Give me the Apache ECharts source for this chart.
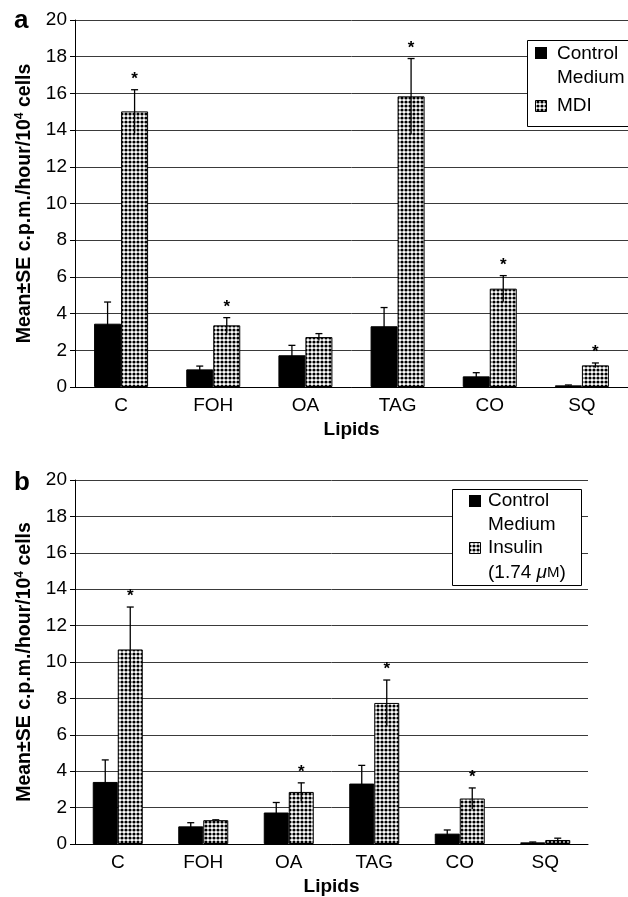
<!DOCTYPE html>
<html>
<head>
<meta charset="utf-8">
<script src="https://cdn.jsdelivr.net/npm/echarts@6/dist/echarts.min.js"></script>
<style>
html, body { margin: 0; padding: 0; background: #fff; }
#chart { width: 628px; height: 897px; }
</style>
</head>
<body>
<div id="chart"></div>
<script>
// data
var lipids = ['C', 'FOH', 'OA', 'TAG', 'CO', 'SQ'];

// panel a: control medium vs MDI
var ctrlA = [3.45, 0.96, 1.73, 3.31, 0.58, 0.09];
var ctrlErrA = [1.18, 0.18, 0.54, 1.02, 0.20, 0.02];
var mdiA = [15.02, 3.36, 2.72, 15.84, 5.36, 1.18];
var mdiErrA = [1.18, 0.42, 0.19, 2.06, 0.71, 0.13];
var mdiStarA = [1, 1, 0, 1, 1, 1];

// panel b: control medium vs insulin
var ctrlB = [3.41, 0.97, 1.73, 3.32, 0.57, 0.09];
var ctrlErrB = [1.21, 0.20, 0.55, 1.00, 0.20, 0.02];
var insB = [10.69, 1.31, 2.86, 7.75, 2.50, 0.22];
var insErrB = [2.33, 0.02, 0.50, 1.26, 0.58, 0.10];
var insStarB = [1, 0, 1, 1, 1, 0];

var FONT = 'Liberation Sans, Arial, sans-serif';

// dotted fill like the printed figure
var tile = document.createElement('canvas');
tile.width = 4; tile.height = 4;
var tctx = tile.getContext('2d');
tctx.fillStyle = '#fff';
tctx.fillRect(0, 0, 4, 4);
tctx.fillStyle = '#000';
tctx.beginPath();
tctx.arc(2, 2, 1.6, 0, Math.PI * 2);
tctx.fill();
var dots = { image: tile, repeat: 'repeat' };

function xAx(idx) {
    return {
        type: 'category', gridIndex: idx, data: lipids,
        name: 'Lipids', nameLocation: 'middle', nameGap: 33,
        nameTextStyle: { fontFamily: FONT, fontSize: 19, fontWeight: 'bold', color: '#000' },
        axisLine: { lineStyle: { color: '#000', width: 1 } },
        axisTick: { length: 6, lineStyle: { color: '#000' } },
        axisLabel: { fontFamily: FONT, fontSize: 19, color: '#000', margin: 9 }
    };
}

function yAx(idx) {
    return {
        type: 'value', gridIndex: idx, min: 0, max: 20, interval: 2,
        name: '{n|Mean±SE c.p.m./hour/10}{s|4}{n| cells}',
        nameLocation: 'middle', nameGap: 38,
        nameTextStyle: {
            rich: {
                n: { fontFamily: FONT, fontSize: 19.5, fontWeight: 'bold', color: '#000', lineHeight: 22 },
                s: { fontFamily: FONT, fontSize: 12, fontWeight: 'bold', color: '#000', verticalAlign: 'top', lineHeight: 22 }
            }
        },
        axisLine: { show: true, lineStyle: { color: '#000', width: 1 } },
        axisTick: { show: true, length: 5, lineStyle: { color: '#000' } },
        axisLabel: { fontFamily: FONT, fontSize: 19, color: '#000', margin: 8 },
        splitLine: { lineStyle: { color: '#3a3a3a', width: 1 } }
    };
}

function barSeries(idx, name, values, fill, width) {
    return {
        type: 'bar', name: name, xAxisIndex: idx, yAxisIndex: idx,
        data: values, barWidth: width, barGap: '0%',
        itemStyle: { color: fill, borderColor: '#000', borderWidth: 1 },
        z: 3
    };
}

function errSeries(idx, means, errs, stars, shift) {
    return {
        type: 'custom', xAxisIndex: idx, yAxisIndex: idx, z: 6,
        data: means.map(function (m, i) { return [i, m, errs[i], stars ? stars[i] : 0]; }),
        encode: { x: 0, y: 1 },
        renderItem: function (params, api) {
            var i = api.value(0), m = api.value(1), e = api.value(2);
            var hi = api.coord([i, m + e]);
            var lo = api.coord([i, Math.max(m - e, 0)]);
            var x = hi[0] + shift;
            var kids = [
                { type: 'line', shape: { x1: x, y1: lo[1], x2: x, y2: hi[1] }, style: { stroke: '#000', lineWidth: 1.3 } },
                { type: 'line', shape: { x1: x - 3.5, y1: hi[1], x2: x + 3.5, y2: hi[1] }, style: { stroke: '#000', lineWidth: 1.3 } }
            ];
            if (api.value(3)) {
                kids.push({
                    type: 'text',
                    style: { text: '*', x: x, y: hi[1] - 2, align: 'center', verticalAlign: 'bottom',
                        fontFamily: FONT, fontSize: 17, fontWeight: 'bold', fill: '#000' }
                });
            }
            return { type: 'group', children: kids };
        }
    };
}

function txt(x, y, s, size, bold) {
    return {
        type: 'text', x: x, y: y, z: 100,
        style: { text: s, fontFamily: FONT, fontSize: size, fontWeight: bold ? 'bold' : 'normal',
            fill: '#000', verticalAlign: 'middle' }
    };
}

var chartDom = document.getElementById('chart');
var myChart = echarts.init(chartDom);
var option;

option = {
    backgroundColor: '#fff',
    animation: false,
    grid: [
        { left: 75, top: 20, width: 564, height: 367 },
        { left: 75, top: 480, width: 513, height: 366 }
    ],
    xAxis: [xAx(0), xAx(1)],
    yAxis: [yAx(0), yAx(1)],
    series: [
        barSeries(0, 'Control Medium', ctrlA, '#000', 27),
        barSeries(0, 'MDI', mdiA, dots, 27),
        barSeries(1, 'Control Medium', ctrlB, '#000', 25),
        barSeries(1, 'Insulin (1.74 μM)', insB, dots, 25),
        errSeries(0, ctrlA, ctrlErrA, null, -13.5),
        errSeries(0, mdiA, mdiErrA, mdiStarA, 13.5),
        errSeries(1, ctrlB, ctrlErrB, null, -12.5),
        errSeries(1, insB, insErrB, insStarB, 12.5)
    ],
    graphic: [
        txt(14, 21, 'a', 26, true),
        txt(14, 483, 'b', 26, true),
        // legend panel a
        { type: 'rect', z: 99, shape: { x: 527.5, y: 40.5, width: 130, height: 86 },
          style: { fill: '#fff', stroke: '#000', lineWidth: 1 } },
        { type: 'rect', z: 100, shape: { x: 535, y: 47, width: 12, height: 12 }, style: { fill: '#000' } },
        txt(557, 54, 'Control', 19),
        txt(557, 78, 'Medium', 19),
        { type: 'rect', z: 100, shape: { x: 535.5, y: 100.5, width: 11, height: 11 },
          style: { fill: dots, stroke: '#000', lineWidth: 1 } },
        txt(557, 106, 'MDI', 19),
        // legend panel b
        { type: 'rect', z: 99, shape: { x: 452.5, y: 489.5, width: 129, height: 96 },
          style: { fill: '#fff', stroke: '#000', lineWidth: 1 } },
        { type: 'rect', z: 100, shape: { x: 469, y: 495, width: 12, height: 12 }, style: { fill: '#000' } },
        txt(488, 501, 'Control', 19),
        txt(488, 525, 'Medium', 19),
        { type: 'rect', z: 100, shape: { x: 469.5, y: 542.5, width: 11, height: 11 },
          style: { fill: dots, stroke: '#000', lineWidth: 1 } },
        txt(488, 548, 'Insulin', 19),
        {
            type: 'text', x: 488, y: 573, z: 100,
            style: {
                text: '{n|(1.74 }{i|μ}{m|M}{n|)}', verticalAlign: 'middle',
                rich: {
                    n: { fontFamily: FONT, fontSize: 19, fill: '#000' },
                    i: { fontFamily: FONT, fontSize: 19, fontStyle: 'italic', fill: '#000' },
                    m: { fontFamily: FONT, fontSize: 15, fill: '#000' }
                }
            }
        }
    ]
};

option && myChart.setOption(option);
</script>
</body>
</html>
